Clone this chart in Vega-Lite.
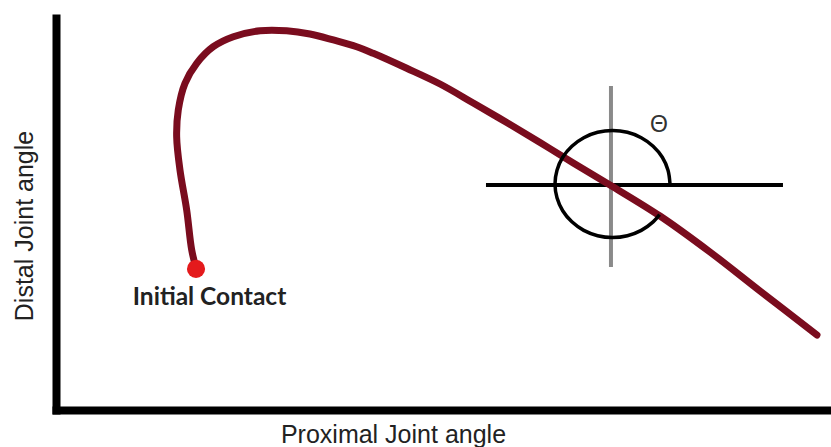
{
  "$schema": "https://vega.github.io/schema/vega-lite/v6.json",
  "autosize": "none",
  "width": 771,
  "height": 392,
  "padding": {"left": 56, "top": 18, "right": 4, "bottom": 37},
  "background": "white",
  "config": {"view": {"stroke": null}},
  "datasets": {
    "hline": [{"x": 55.77, "x2": 94.29, "y": 57.40}],
    "vline": [{"x": 71.98, "y": 82.65, "y2": 36.48}],
    "curve": [
      {"i": 1, "x": 18.16, "y": 36.22},
      {"i": 2, "x": 17.60, "y": 40.82},
      {"i": 3, "x": 16.95, "y": 51.02},
      {"i": 4, "x": 16.08, "y": 61.22},
      {"i": 5, "x": 15.65, "y": 69.72},
      {"i": 6, "x": 15.86, "y": 76.53},
      {"i": 7, "x": 16.73, "y": 83.34},
      {"i": 8, "x": 18.25, "y": 88.44},
      {"i": 9, "x": 20.40, "y": 92.68},
      {"i": 10, "x": 23.00, "y": 95.23},
      {"i": 11, "x": 26.46, "y": 96.76},
      {"i": 12, "x": 29.92, "y": 96.76},
      {"i": 13, "x": 32.94, "y": 95.92},
      {"i": 14, "x": 35.97, "y": 94.39},
      {"i": 15, "x": 39.00, "y": 92.68},
      {"i": 16, "x": 41.15, "y": 90.99},
      {"i": 17, "x": 45.49, "y": 87.17},
      {"i": 18, "x": 49.81, "y": 83.16},
      {"i": 19, "x": 54.12, "y": 78.32},
      {"i": 20, "x": 58.46, "y": 73.34},
      {"i": 21, "x": 62.78, "y": 68.24},
      {"i": 22, "x": 67.09, "y": 63.01},
      {"i": 23, "x": 71.85, "y": 57.40},
      {"i": 24, "x": 78.34, "y": 49.49},
      {"i": 25, "x": 84.82, "y": 40.31},
      {"i": 26, "x": 91.31, "y": 30.36},
      {"i": 27, "x": 98.70, "y": 19.13}
    ],
    "arc": [
      {"i": 1, "x": 79.64, "y": 57.65},
      {"i": 2, "x": 79.38, "y": 61.18},
      {"i": 3, "x": 78.64, "y": 64.48},
      {"i": 4, "x": 77.45, "y": 67.30},
      {"i": 5, "x": 75.91, "y": 69.47},
      {"i": 6, "x": 74.11, "y": 70.84},
      {"i": 7, "x": 72.18, "y": 71.30},
      {"i": 8, "x": 70.25, "y": 70.84},
      {"i": 9, "x": 68.45, "y": 69.47},
      {"i": 10, "x": 66.91, "y": 67.30},
      {"i": 11, "x": 65.72, "y": 64.48},
      {"i": 12, "x": 64.98, "y": 61.18},
      {"i": 13, "x": 64.72, "y": 57.65},
      {"i": 14, "x": 64.98, "y": 54.12},
      {"i": 15, "x": 65.72, "y": 50.83},
      {"i": 16, "x": 66.91, "y": 48.00},
      {"i": 17, "x": 68.45, "y": 45.83},
      {"i": 18, "x": 70.25, "y": 44.47},
      {"i": 19, "x": 72.18, "y": 44.00},
      {"i": 20, "x": 74.11, "y": 44.47},
      {"i": 21, "x": 75.91, "y": 45.83},
      {"i": 22, "x": 77.45, "y": 48.00},
      {"i": 23, "x": 78.29, "y": 49.82}
    ],
    "dot": [{"x": 18.16, "y": 36.0}],
    "contact": [{"x": 19.91, "y": 26.79, "label": "Initial Contact"}],
    "theta": [{"x": 78.21, "y": 72.70, "label": "Θ"}]
  },
  "encoding": {
    "x": {
      "field": "x", "type": "quantitative",
      "scale": {"domain": [0, 100], "nice": false, "zero": false},
      "axis": {
        "title": "Proximal Joint angle",
        "ticks": false, "labels": false, "grid": false,
        "domainColor": "#000000", "domainWidth": 8, "domainCap": "square",
        "titleFont": "Liberation Sans", "titleFontSize": 25, "titleFontWeight": "normal",
        "titleColor": "#222222", "titleX": 337, "titleY": 32,
        "titleBaseline": "alphabetic", "titleAlign": "center"
      }
    },
    "y": {
      "field": "y", "type": "quantitative",
      "scale": {"domain": [0, 100], "nice": false, "zero": false},
      "axis": {
        "title": "Distal Joint angle",
        "ticks": false, "labels": false, "grid": false,
        "domainColor": "#000000", "domainWidth": 8, "domainCap": "square",
        "titleFont": "Liberation Sans", "titleFontSize": 25, "titleFontWeight": "normal",
        "titleColor": "#222222", "titleX": -24, "titleY": 207.5, "titleAngle": 270,
        "titleBaseline": "alphabetic", "titleAlign": "center"
      }
    }
  },
  "layer": [
    {
      "data": {"name": "hline"},
      "mark": {"type": "rule", "color": "#000000", "strokeWidth": 4},
      "encoding": {"x2": {"field": "x2"}}
    },
    {
      "data": {"name": "vline"},
      "mark": {"type": "rule", "color": "#8a8a8a", "strokeWidth": 4},
      "encoding": {"y2": {"field": "y2"}}
    },
    {
      "data": {"name": "curve"},
      "mark": {"type": "line", "color": "#7a0c1e", "strokeWidth": 7, "interpolate": "catmull-rom", "strokeCap": "round"},
      "encoding": {"order": {"field": "i", "type": "quantitative"}}
    },
    {
      "data": {"name": "arc"},
      "mark": {"type": "line", "color": "#000000", "strokeWidth": 3.5, "interpolate": "catmull-rom"},
      "encoding": {"order": {"field": "i", "type": "quantitative"}}
    },
    {
      "data": {"name": "dot"},
      "mark": {"type": "point", "filled": true, "color": "#e41a1c", "opacity": 1, "size": 330},
      "encoding": {}
    },
    {
      "data": {"name": "contact"},
      "mark": {"type": "text", "font": "Lato", "fontWeight": "bold", "fontSize": 24.5, "color": "#222222", "align": "center", "baseline": "alphabetic"},
      "encoding": {"text": {"field": "label"}}
    },
    {
      "data": {"name": "theta"},
      "mark": {"type": "text", "font": "Liberation Sans", "fontSize": 23, "color": "#333333", "align": "center", "baseline": "middle"},
      "encoding": {"text": {"field": "label"}}
    }
  ]
}
